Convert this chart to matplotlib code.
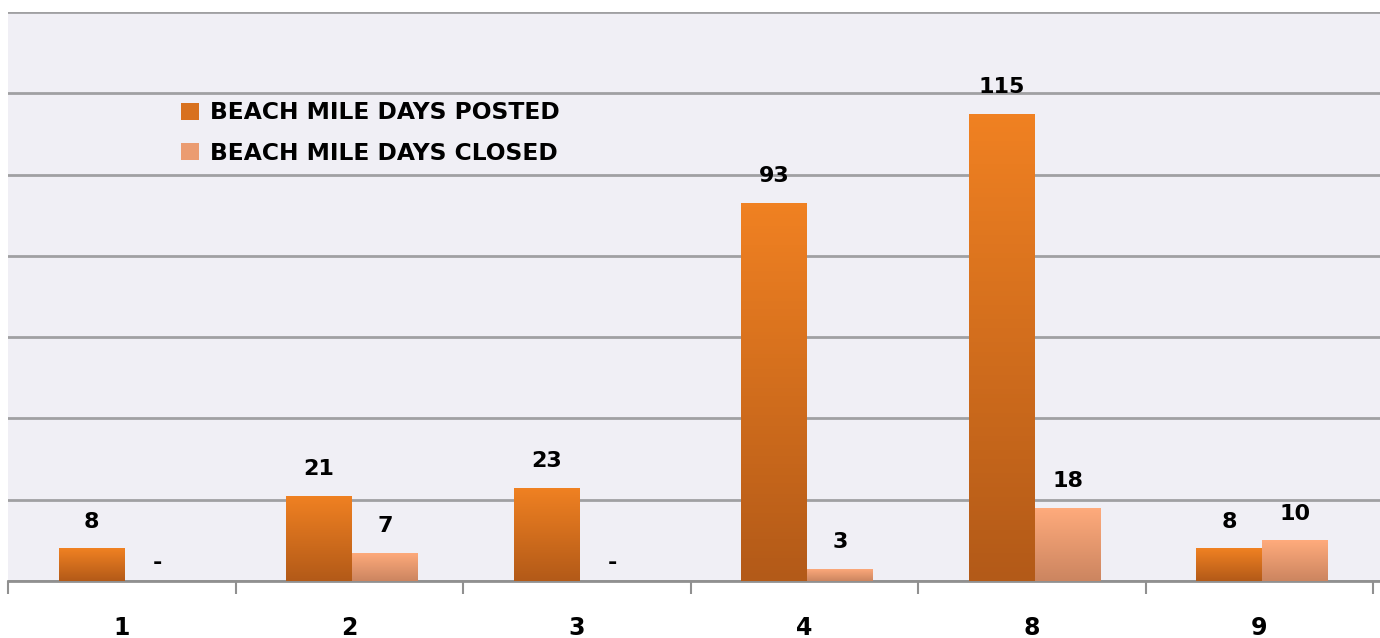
import numpy as np
import matplotlib.pyplot as plt
from matplotlib.colors import LinearSegmentedColormap

categories = ['1', '2', '3', '4', '8', '9']
days_posted = [8, 21, 23, 93, 115, 8]
days_closed = [0, 7, 0, 3, 18, 10]
series_names = ['BEACH MILE DAYS POSTED', 'BEACH MILE DAYS CLOSED']

plt.rcParams['font.family'] = ['DejaVu Sans']
plt.rcParams['font.weight'] = 'bold'

fig = plt.figure(figsize=(13.8, 6.38), dpi=100)
ax = fig.add_axes([8/1380, 1 - 581/638, 1 - 8/1380, (581 - 12)/638])
ax.set_facecolor('#f0eff5')

x = np.arange(len(categories))
w = 0.29
cmaps = [LinearSegmentedColormap.from_list('p', ['#b35a18', '#f08122']),
         LinearSegmentedColormap.from_list('c', ['#cc8560', '#ffab7c'])]
grad = np.linspace(0, 1, 100).reshape(-1, 1)

for k, (vals, off) in enumerate([(days_posted, -w/2), (days_closed, w/2)]):
    bars = ax.bar(x + off + 0.012, vals, w, color=cmaps[k](0.6), label=series_names[k], zorder=3)
    for b, v in zip(bars, vals):
        if v > 0:
            im = ax.imshow(grad, cmap=cmaps[k], origin='lower', aspect='auto',
                           extent=[b.get_x(), b.get_x() + w, 0, v], zorder=3.5)
            im.set_clip_path(b)
            dy = 12
        else:
            dy = 6  # dash for zero sits a bit lower
        lab = str(v) if v > 0 else '-'
        ax.annotate(lab, (b.get_x() + w/2, v), xytext=(0, dy), textcoords='offset points',
                    ha='center', va='bottom', fontsize=16, fontweight='bold', color='black')

ax.set_xlim(-0.5, 5.53)
ax.set_ylim(0, 140)
ax.set_yticks(np.arange(0, 141, 20))
ax.yaxis.grid(True, color='#a0a0a2', linewidth=2)
ax.set_axisbelow(True)
ax.tick_params(axis='y', left=False, labelleft=False)

ax.set_xticks(x)
ax.set_xticklabels(categories, fontsize=17, fontweight='bold')
ax.set_xticks(np.arange(-0.5, 6, 1), minor=True)
ax.tick_params(axis='x', which='major', length=0, pad=25)
ax.tick_params(axis='x', which='minor', length=9, width=1.5, color='#909090')

for s in ['top', 'right', 'left']:
    ax.spines[s].set_visible(False)
ax.spines['bottom'].set_color('#909090')
ax.spines['bottom'].set_linewidth(2)

leg = ax.legend(loc='upper left', bbox_to_anchor=(0.111, 0.88), frameon=False,
                prop={'size': 16.8, 'weight': 'bold'}, handlelength=0.75, handleheight=0.75,
                handletextpad=0.5, labelspacing=0.75)

plt.savefig('out.png')
